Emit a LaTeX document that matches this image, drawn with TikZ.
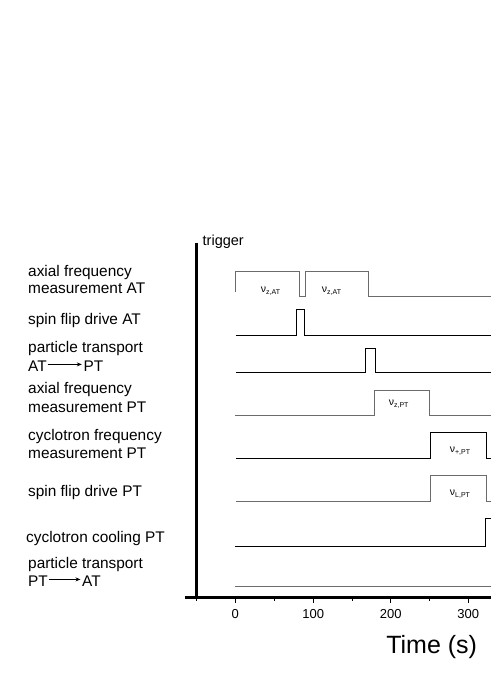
\documentclass[tikz,border=0pt]{standalone}
\usepackage{fontspec}
\setmainfont{Liberation Sans}
\usetikzlibrary{arrows.meta}
\definecolor{tracegray}{gray}{0.42}
\begin{document}
\begin{tikzpicture}[x=1pt,y=-1pt,
  lab/.style={anchor=base west,inner sep=0pt,font=\fontsize{15.4}{17}\selectfont},
  ticklab/.style={anchor=base,inner sep=0pt,font=\fontsize{13}{13}\selectfont},
  nulab/.style={anchor=base,inner sep=0pt,font=\fontsize{10.5}{10.5}\selectfont},
  trace/.style={line width=1pt,line join=miter},
  blacktrace/.style={trace,black},
  graytrace/.style={trace,tracegray},
  axisline/.style={line width=3pt,black},
  majortick/.style={line width=1pt},
  minortick/.style={line width=1pt}]
\useasboundingbox (0,0) rectangle (491,693);
\fill[white] (0,0) rectangle (491,693);

% left labels
\node[lab] (l1a) at (28,276) {axial frequency};
\node[lab] (l1b) at (28,293.3) {measurement AT};
\node[lab] (l2) at (28,324) {spin flip drive AT};
\node[lab] (l3a) at (28,352.7) {particle transport};
\node[lab] (l3at) at (28,371.7) {AT};
\node[lab] (l3pt) at (83.3,371.7) {PT};
\draw[line width=0.8pt,-{Stealth[length=5pt,width=4pt]}] ([xshift=0.8pt,yshift=2pt]l3at.east) -- ([xshift=-1.5pt,yshift=2pt]l3pt.west);
\node[lab] (l4a) at (28,393.3) {axial frequency};
\node[lab] (l4b) at (28,412.7) {measurement PT};
\node[lab] (l5a) at (28,440) {cyclotron frequency};
\node[lab] (l5b) at (28,458.3) {measurement PT};
\node[lab] (l6) at (28,496) {spin flip drive PT};
\node[lab] (l7) at (26,542.7) {cyclotron cooling PT};
\node[lab] (l8a) at (28,568.3) {particle transport};
\node[lab] (l8pt) at (28,586.7) {PT};
\node[lab] (l8at) at (82,586.7) {AT};
\draw[line width=0.8pt,-{Stealth[length=5pt,width=4pt]}] ([xshift=0.8pt,yshift=2pt]l8pt.east) -- ([xshift=-1.5pt,yshift=2pt]l8at.west);

% axes
\draw[axisline] (196.7,243) -- (196.7,597.3);
\draw[axisline] (185,597.3) -- (491,597.3);
\node[anchor=base west,inner sep=0pt,font=\fontsize{14.5}{14.5}\selectfont] (trig) at (202.5,245) {trigger};

% ticks
\foreach \x in {196.5,274.2,352,429.5} \draw[minortick] (\x,597.3) -- (\x,600.5);
\foreach \x in {235.3,313.3,390.7,468.3} \draw[majortick] (\x,597.3) -- (\x,602.5);
\node[ticklab] (t0) at (235.3,618.3) {0};
\node[ticklab] (t100) at (313.3,618.3) {100};
\node[ticklab] (t200) at (390.7,618.3) {200};
\node[ticklab] (t300) at (468.3,618.3) {300};
\node[anchor=base,inner sep=0pt,font=\fontsize{25}{25}\selectfont] (tlab) at (431.7,653) {Time (s)};

% traces
\draw[graytrace] (235,291.5) -- (235,271) -- (299,271) -- (299,296) -- (305,296) -- (305,271) -- (368.5,271) -- (368.5,296) -- (491,296);
\draw[blacktrace] (235.5,335) -- (296.7,335) -- (296.7,309) -- (304,309) -- (304,335) -- (491,335);
\draw[blacktrace] (236,372.7) -- (365.7,372.7) -- (365.7,348) -- (375,348) -- (375,372.7) -- (491,372.7);
\draw[graytrace] (235,415) -- (374.3,415) -- (374.3,390.7) -- (429,390.7) -- (429,415) -- (491,415);
\draw[blacktrace] (236,458.3) -- (430.7,458.3) -- (430.7,432.7) -- (486.7,432.7) -- (486.7,458.3) -- (491,458.3);
\draw[graytrace] (236,501.7) -- (430.7,501.7) -- (430.7,475) -- (486.7,475) -- (486.7,501.7) -- (491,501.7);
\draw[blacktrace] (235,546) -- (485,546) -- (485,518.7) -- (491,518.7);
\draw[graytrace] (235,586) -- (491,586);

% pulse labels
\node[nulab] (n1) at (270.5,292) {ν\raisebox{-2.5pt}{\fontsize{7}{7}\selectfont z,AT}};
\node[nulab] (n2) at (331.5,292) {ν\raisebox{-2.5pt}{\fontsize{7}{7}\selectfont z,AT}};
\node[nulab] (n3) at (398.7,405) {ν\raisebox{-2.5pt}{\fontsize{7}{7}\selectfont z,PT}};
\node[nulab] (n4) at (460,452) {ν\raisebox{-2.5pt}{\fontsize{7}{7}\selectfont +,PT}};
\node[nulab] (n5) at (460,495) {ν\raisebox{-2.5pt}{\fontsize{7}{7}\selectfont L,PT}};
\end{tikzpicture}
\end{document}
